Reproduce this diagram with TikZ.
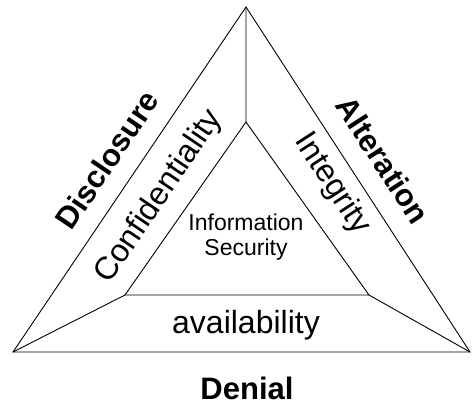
\documentclass[tikz,border=0pt]{standalone}
\usepackage{fontspec}
\setmainfont{Liberation Sans}

\begin{document}
\begin{tikzpicture}[x=1pt,y=1pt]
% Label styles
\tikzset{
    threat/.style={font=\fontsize{31}{34}\selectfont\bfseries, inner sep=0pt},
    goal/.style={font=\fontsize{32}{35}\selectfont, inner sep=0pt},
    core/.style={font=\fontsize{23}{25}\selectfont, align=center, inner sep=0pt}
}
\useasboundingbox (0,0) rectangle (472,-404);
% Corners
\coordinate (OT) at (246,-7);
\coordinate (OL) at (13,-352);
\coordinate (OR) at (470,-352);
\coordinate (IT) at (246,-122);
\coordinate (IL) at (125,-295);
\coordinate (IR) at (369,-295);
% Triangles
\draw[line width=0.9pt] (OT) -- (OL) -- (OR) -- cycle;
\draw[line width=0.9pt] (IT) -- (IL) -- (IR) -- cycle;
\draw[line width=0.9pt] (OT) -- (IT) (OL) -- (IL) (OR) -- (IR);
% Labels
\node[core] (IS) at (246,-237) {Information\\Security};
\node[goal,rotate=56] (CONF) at (159,-197) {Confidentiality};
\node[goal,rotate=-57] (INT) at (332,-184) {Integrity};
\node[goal,anchor=base] (AV) at (246,-333) {availability};
\node[threat,rotate=56] (DIS) at (107,-160) {Disclosure};
\node[threat,rotate=-57] (ALT) at (383,-160) {Alteration};
\node[threat,anchor=base] (DEN) at (247,-399) {Denial};
\end{tikzpicture}
\end{document}
